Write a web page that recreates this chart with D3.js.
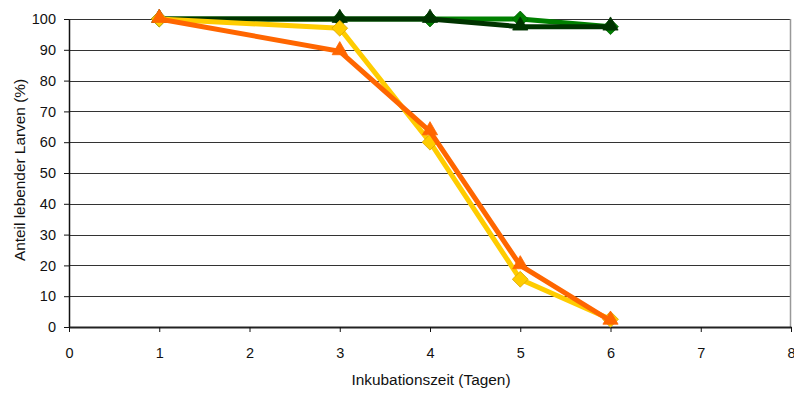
<!DOCTYPE html>
<html>
<head>
<meta charset="utf-8">
<script src="https://cdn.jsdelivr.net/npm/d3@7"></script>
<style>
  html, body { margin: 0; padding: 0; background: #fff; }
  svg { display: block; font-family: "Liberation Sans", Arial, sans-serif; }
</style>
</head>
<body>
<svg id="chart" width="794" height="394"></svg>
<script>
// Incubation days and share of living larvae (%) per series
const days = [1, 3, 4, 5, 6];
const seriesGreen = [100, 100, 100, 100, 97.5];
const seriesDarkGreen = [100, 100, 100, 97.5, 97.5];
const seriesYellow = [100, 97, 60, 15.5, 2.5];
const seriesOrange = [100, 89.5, 63.5, 20, 2];

const xTicks = [0, 1, 2, 3, 4, 5, 6, 7, 8];
const yTicks = [0, 10, 20, 30, 40, 50, 60, 70, 80, 90, 100];

const series = [
  { values: seriesGreen, color: "#008000", stroke: "#006000", marker: "diamond" },
  { values: seriesDarkGreen, color: "#003300", stroke: "#003300", marker: "triangle" },
  { values: seriesYellow, color: "#FFCC00", stroke: "#D9A400", marker: "diamond" },
  { values: seriesOrange, color: "#FF6600", stroke: "#FF6600", marker: "triangle" }
];

const svg = d3.select("#chart");
const plotLeft = 69, plotRight = 791, plotTop = 19, plotBottom = 327;
const tickFont = 14.5, titleFont = 15.4;

const x = d3.scaleLinear().domain([0, 8]).range([plotLeft, plotRight]);
const y = d3.scaleLinear().domain([0, 100]).range([plotBottom, plotTop]);

// Horizontal gridlines
svg.append("g")
  .selectAll("line")
  .data(yTicks.filter(v => v > 0))
  .join("line")
  .attr("x1", plotLeft).attr("x2", plotRight)
  .attr("y1", d => Math.round(y(d)) + 0.5)
  .attr("y2", d => Math.round(y(d)) + 0.5)
  .attr("stroke", "#333").attr("stroke-width", 1);

// Right frame line
svg.append("line")
  .attr("x1", plotRight - 0.5).attr("x2", plotRight - 0.5)
  .attr("y1", plotTop).attr("y2", plotBottom)
  .attr("stroke", "#999").attr("stroke-width", 1.5);

// Y axis
const yAxis = svg.append("g")
  .attr("transform", `translate(${plotLeft},0)`)
  .call(d3.axisLeft(y).tickValues(yTicks).tickSize(5).tickPadding(8).tickSizeOuter(0));
yAxis.select(".domain").attr("stroke", "#111").attr("stroke-width", 1.5);
yAxis.selectAll(".tick line").attr("stroke", "#111");
yAxis.selectAll("text").attr("font-size", tickFont).attr("fill", "#111")
  .attr("font-family", "Liberation Sans, Arial, sans-serif");

// X axis
const xAxis = svg.append("g")
  .attr("transform", `translate(0,${plotBottom})`)
  .call(d3.axisBottom(x).tickValues(xTicks).tickSize(5).tickPadding(16).tickSizeOuter(0));
xAxis.select(".domain").attr("stroke", "#222").attr("stroke-width", 2);
xAxis.selectAll(".tick line").attr("stroke", "#111");
xAxis.selectAll("text").attr("font-size", tickFont).attr("fill", "#111")
  .attr("font-family", "Liberation Sans, Arial, sans-serif");

// Axis titles
svg.append("text")
  .attr("x", 431).attr("y", 385)
  .attr("text-anchor", "middle").attr("font-size", titleFont).attr("fill", "#111")
  .text("Inkubationszeit (Tagen)");

svg.append("text")
  .attr("transform", `translate(25,170) rotate(-90)`)
  .attr("text-anchor", "middle").attr("font-size", titleFont).attr("fill", "#111")
  .text("Anteil lebender Larven (%)");

// Series lines and markers
const line = d3.line().x((d, i) => x(days[i])).y(d => y(d));
const diamond = d3.symbol().type(d3.symbolDiamond2).size(160);
const triangle = d3.symbol().type(d3.symbolTriangle).size(100);

series.forEach(s => {
  svg.append("path")
    .datum(s.values)
    .attr("d", line)
    .attr("fill", "none")
    .attr("stroke", s.color)
    .attr("stroke-width", 5)
    .attr("stroke-linejoin", "miter");

  svg.append("g")
    .selectAll("path")
    .data(s.values)
    .join("path")
    .attr("transform", (d, i) => `translate(${x(days[i])},${y(d) + (s.marker === "triangle" ? -1 : 0)})`)
    .attr("d", s.marker === "diamond" ? diamond() : triangle())
    .attr("fill", s.color)
    .attr("stroke", s.stroke)
    .attr("stroke-width", 0.8);
});
</script>
</body>
</html>
